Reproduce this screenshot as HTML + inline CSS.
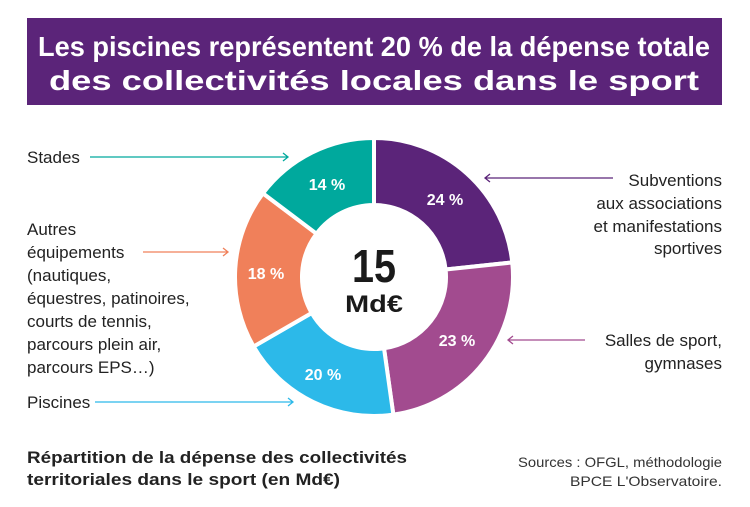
<!DOCTYPE html>
<html><head><meta charset="utf-8"><style>
body{margin:0;background:#fff;}
svg{display:block;font-family:"Liberation Sans",sans-serif;}
</style></head><body>
<svg id="s" width="750" height="507" viewBox="0 0 750 507">
<rect x="27" y="18" width="695" height="87" fill="#5b2479"/>
<text x="374" y="56" fill="#fff" font-size="28" font-weight="bold" text-anchor="middle" textLength="672" lengthAdjust="spacingAndGlyphs">Les piscines représentent 20 % de la dépense totale</text>
<text x="374" y="90" fill="#fff" font-size="28" font-weight="bold" text-anchor="middle" textLength="650" lengthAdjust="spacingAndGlyphs">des collectivités locales dans le sport</text>
<g id="d"></g>
<g font-size="16" font-weight="bold" fill="#fff" text-anchor="middle">
<text x="445" y="205">24 %</text>
<text x="457" y="346">23 %</text>
<text x="323" y="380">20 %</text>
<text x="266" y="279">18 %</text>
<text x="327" y="190">14 %</text>
</g>
<text x="374" y="282" font-size="46" font-weight="bold" text-anchor="middle" fill="#1a1a1a" textLength="44" lengthAdjust="spacingAndGlyphs">15</text>
<text x="374" y="312" font-size="24" font-weight="bold" text-anchor="middle" fill="#1a1a1a" textLength="58" lengthAdjust="spacingAndGlyphs">Md€</text>
<g font-size="17" fill="#222">
<text x="27" y="163">Stades</text>
<text x="27" y="235">Autres</text>
<text x="27" y="258">équipements</text>
<text x="27" y="281">(nautiques,</text>
<text x="27" y="304">équestres, patinoires,</text>
<text x="27" y="327">courts de tennis,</text>
<text x="27" y="350">parcours plein air,</text>
<text x="27" y="373">parcours EPS…)</text>
<text x="27" y="408">Piscines</text>
<g text-anchor="end">
<text x="722" y="186">Subventions</text>
<text x="722" y="209">aux associations</text>
<text x="722" y="232">et manifestations</text>
<text x="722" y="254">sportives</text>
<text x="722" y="346">Salles de sport,</text>
<text x="722" y="369">gymnases</text>
</g></g>
<g fill="none" stroke-width="1.3">
<path d="M90 157H288M283 153L288 157L283 161" stroke="#00a99d"/>
<path d="M143 252H228M223 248L228 252L223 256" stroke="#f0805a"/>
<path d="M95 402H293M288 398L293 402L288 406" stroke="#2cb9e9"/>
<path d="M613 178H485M490 174L485 178L490 182" stroke="#5b2479"/>
<path d="M585 340H508M513 336L508 340L513 344" stroke="#a24b8f"/>
</g>
<text x="27" y="463" font-size="17" font-weight="bold" fill="#222" textLength="380" lengthAdjust="spacingAndGlyphs">Répartition de la dépense des collectivités</text>
<text x="27" y="485" font-size="17" font-weight="bold" fill="#222" textLength="313" lengthAdjust="spacingAndGlyphs">territoriales dans le sport (en Md€)</text>
<text x="722" y="467" font-size="14" fill="#333" text-anchor="end" textLength="204" lengthAdjust="spacingAndGlyphs">Sources : OFGL, méthodologie</text>
<text x="722" y="486" font-size="14" fill="#333" text-anchor="end" textLength="152" lengthAdjust="spacingAndGlyphs">BPCE L'Observatoire.</text>
</svg>
<script>
var cx=374,cy=277,R=139,r=72;
var segs=[[0,84,"#5b2479"],[84,172,"#a24b8f"],[172,240,"#2cb9e9"],[240,307,"#f0805a"],[307,360,"#00a99d"]];
function p(a,rad){a=a*Math.PI/180;return (cx+rad*Math.sin(a)).toFixed(2)+" "+(cy-rad*Math.cos(a)).toFixed(2);}
var h="";
segs.forEach(function(s){var l=(s[1]-s[0])>180?1:0;
h+='<path d="M'+p(s[0],R)+' A'+R+' '+R+' 0 '+l+' 1 '+p(s[1],R)+' L'+p(s[1],r)+' A'+r+' '+r+' 0 '+l+' 0 '+p(s[0],r)+' Z" fill="'+s[2]+'" stroke="#fff" stroke-width="4" stroke-linejoin="round"/>';});
document.getElementById("d").innerHTML=h;
</script>
</body></html>
